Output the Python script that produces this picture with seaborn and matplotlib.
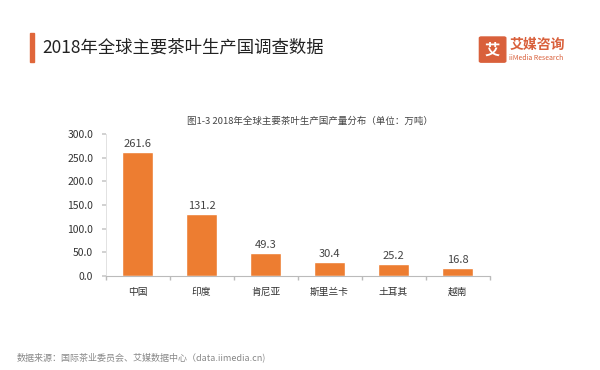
import numpy as np
import pandas as pd
import seaborn as sns
import matplotlib.pyplot as plt
from matplotlib.patches import FancyBboxPatch, Rectangle

# data
countries = ['中国', '印度', '肯尼亚', '斯里兰卡', '土耳其', '越南']
output_wt = [261.6, 131.2, 49.3, 30.4, 25.2, 16.8]  # 万吨
y_ticks = [0, 50, 100, 150, 200, 250, 300]

df = pd.DataFrame({'country': countries, 'output': output_wt})

sns.set_theme(style='white')
plt.rcParams['font.family'] = ['Noto Sans CJK SC', 'DejaVu Sans']

fig = plt.figure(figsize=(6, 3.7), dpi=100)
ax = fig.add_axes([0.176, 0.254, 0.64, 0.384])

sns.barplot(data=df, x='country', y='output', color='#ED7D31', saturation=1,
            width=0.48, ax=ax)

for i, v in enumerate(output_wt):
    ax.text(i, v + 6, f'{v:.1f}', ha='center', va='bottom', fontsize=8, color='#444444')

ax.set_xlim(-0.5, len(countries) - 0.5)
ax.set_ylim(0, 300)
ax.set_yticks(y_ticks)
ax.set_yticklabels([f'{t:.1f}' for t in y_ticks], fontsize=7.5, color='#333333')
ax.set_xticks(range(len(countries)))
ax.set_xticklabels(countries, fontsize=7, color='#333333')
ax.set_xlabel('')
ax.set_ylabel('')

# minor ticks between categories on the x axis
ax.set_xticks(np.arange(-0.5, len(countries)), minor=True)
ax.tick_params(axis='x', which='major', length=0, pad=8)
ax.tick_params(axis='x', which='minor', length=3, color='#bbbbbb', direction='out', bottom=True)
ax.tick_params(axis='y', length=3, color='#cccccc', direction='out', left=True, pad=6)

for s in ['top', 'right']:
    ax.spines[s].set_visible(False)
ax.spines['left'].set_color('#dddddd')
ax.spines['left'].set_linewidth(0.6)
ax.spines['bottom'].set_color('#bbbbbb')
ax.spines['bottom'].set_linewidth(0.8)

# headline with accent bar
fig.patches.append(Rectangle((0.05, 0.832), 0.006, 0.08, transform=fig.transFigure,
                             color='#E0663A', zorder=5))
fig.text(0.07, 0.872, '2018年全球主要茶叶生产国调查数据', fontsize=12.5,
         color='#222222', va='center', ha='left')

# logo
fig.patches.append(FancyBboxPatch((0.802, 0.835), 0.038, 0.062, boxstyle='round,pad=0.003',
                                  transform=fig.transFigure, color='#D9603B', zorder=5))
fig.text(0.821, 0.866, '艾', fontsize=11, color='white', ha='center', va='center',
         fontweight='bold', zorder=6)
fig.text(0.849, 0.878, '艾媒咨询', fontsize=10, color='#D9603B', ha='left', va='center',
         fontweight='bold')
fig.text(0.849, 0.843, 'iiMedia Research', fontsize=5, color='#D9603B', ha='left', va='center')

# chart subtitle
fig.text(0.517, 0.673, '图1-3 2018年全球主要茶叶生产国产量分布（单位：万吨）', fontsize=6.8,
         color='#444444', ha='center', va='center')

# source
fig.text(0.027, 0.035, '数据来源：国际茶业委员会、艾媒数据中心（data.iimedia.cn)', fontsize=6.5,
         color='#888888', ha='left', va='center')

fig.savefig('out.png', dpi=100)
